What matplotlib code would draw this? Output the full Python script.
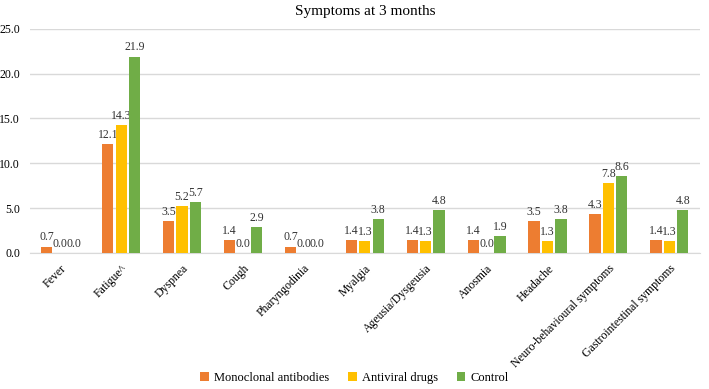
import matplotlib.pyplot as plt
import numpy as np

categories = ['Fever', 'Fatigue^', 'Dyspnea', 'Cough', 'Pharyngodinia', 'Myalgia',
              'Ageusia/Dysgeusia', 'Anosmia', 'Headache',
              'Neuro-behavioural symptoms', 'Gastrointestinal symptoms']
monoclonal = [0.7, 12.1, 3.5, 1.4, 0.7, 1.4, 1.4, 1.4, 3.5, 4.3, 1.4]
antiviral = [0.0, 14.3, 5.2, 0.0, 0.0, 1.3, 1.3, 0.0, 1.3, 7.8, 1.3]
control = [0.0, 21.9, 5.7, 2.9, 0.0, 3.8, 4.8, 1.9, 3.8, 8.6, 4.8]
series_names = ['Monoclonal antibodies', 'Antiviral drugs', 'Control']
colors = ['#ED7D31', '#FFC000', '#70AD47']

fig = plt.figure(figsize=(7.09, 3.89), dpi=100)
ax = fig.add_axes([0.042, 0.35, 0.945, 0.576])

x = np.arange(len(categories))
w = 0.185
step = 0.22
for i, (vals, name, c) in enumerate(zip([monoclonal, antiviral, control], series_names, colors)):
    bars = ax.bar(x + (i - 1) * step, vals, w, color=c, label=name, zorder=3)
    for b, v in zip(bars, vals):
        ax.text(b.get_x() + b.get_width() / 2, v + 0.35, '%.1f' % v, ha='center', va='bottom',
                fontsize=8.5, family='Liberation Serif', color='#333333')

ax.set_xlim(-0.5, len(categories) - 0.5)
ax.set_ylim(0, 25)
ax.set_yticks(np.arange(0, 25.1, 5))
ax.set_yticklabels(['%.1f' % t for t in np.arange(0, 25.1, 5)], family='Liberation Serif', fontsize=8.5)
ax.set_xticks(x)
ax.set_xticklabels(categories, rotation=45, ha='right', rotation_mode='anchor',
                   family='Liberation Serif', fontsize=8.5)
ax.tick_params(axis='x', length=0, pad=7)
ax.tick_params(axis='y', length=0, pad=7)
ax.yaxis.grid(True, color='#d9d9d9', linewidth=1, zorder=0)
for s in ['top', 'right', 'left']:
    ax.spines[s].set_visible(False)
ax.spines['bottom'].set_color('#d9d9d9')

ax.set_title('Symptoms at 3 months', family='Liberation Serif', fontsize=11, pad=10)

fig.legend(loc='lower center', ncol=3, frameon=False, bbox_to_anchor=(0.5, -0.015),
           prop={'family': 'Liberation Serif', 'size': 9}, handlelength=0.7, handleheight=0.7,
           columnspacing=1.5, handletextpad=0.4)

plt.savefig('out.png', dpi=100)
